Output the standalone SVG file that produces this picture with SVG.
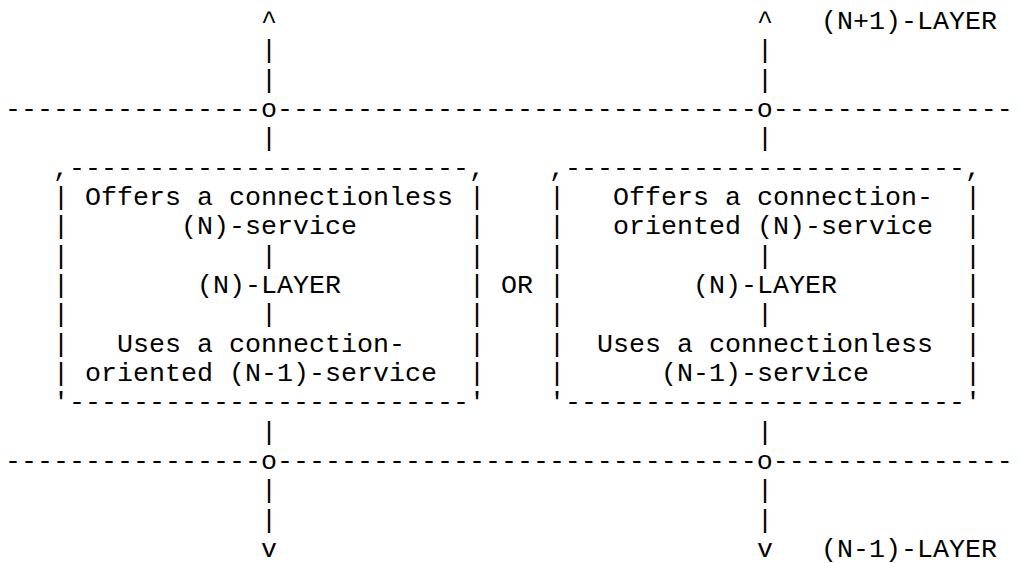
<svg xmlns="http://www.w3.org/2000/svg" width="1020" height="563" viewBox="0 0 1020 563">
<style>
text { font-family: "Liberation Mono", "Courier New", monospace; font-size: 26.667px; fill: #000; white-space: pre; }
</style>
<rect x="0" y="0" width="1020" height="563" fill="#fff"/>
<g id="connectors">
  <g id="layer-boundary-upper">
    <text x="5" y="117" xml:space="preserve">----------------o------------------------------o---------------</text>
  </g>
  <g id="layer-boundary-lower">
    <text x="5" y="469" xml:space="preserve">----------------o------------------------------o---------------</text>
  </g>
  <g id="left-path">
    <text x="261" y="29">^</text>
    <text x="261" y="58.3">|</text>
    <text x="261" y="87.7">|</text>
    <text x="261" y="146.3">|</text>
    <text x="261" y="439.7">|</text>
    <text x="261" y="498.3">|</text>
    <text x="261" y="527.7">|</text>
    <text x="261" y="557">v</text>
  </g>
  <g id="right-path">
    <text x="757" y="29">^</text>
    <text x="757" y="58.3">|</text>
    <text x="757" y="87.7">|</text>
    <text x="757" y="146.3">|</text>
    <text x="757" y="439.7">|</text>
    <text x="757" y="498.3">|</text>
    <text x="757" y="527.7">|</text>
    <text x="757" y="557">v</text>
  </g>
</g>
<g id="node-left">
  <text x="53" y="175.7" xml:space="preserve">,-------------------------,</text>
  <text x="53" y="205">|</text><text x="469" y="205">|</text>
  <text x="53" y="234.3">|</text><text x="469" y="234.3">|</text>
  <text x="53" y="263.7">|</text><text x="469" y="263.7">|</text>
  <text x="53" y="293">|</text><text x="469" y="293">|</text>
  <text x="53" y="322.3">|</text><text x="469" y="322.3">|</text>
  <text x="53" y="351.7">|</text><text x="469" y="351.7">|</text>
  <text x="53" y="381">|</text><text x="469" y="381">|</text>
  <text x="53" y="410.3" xml:space="preserve">'-------------------------'</text>
  <text x="85" y="205" xml:space="preserve">Offers a connectionless</text>
  <text x="181" y="234.3">(N)-service</text>
  <text x="261" y="263.7">|</text>
  <text x="197" y="293">(N)-LAYER</text>
  <text x="261" y="322.3">|</text>
  <text x="117" y="351.7" xml:space="preserve">Uses a connection-</text>
  <text x="85" y="381" xml:space="preserve">oriented (N-1)-service</text>
</g>
<g id="node-right">
  <text x="549" y="175.7" xml:space="preserve">,-------------------------,</text>
  <text x="549" y="205">|</text><text x="965" y="205">|</text>
  <text x="549" y="234.3">|</text><text x="965" y="234.3">|</text>
  <text x="549" y="263.7">|</text><text x="965" y="263.7">|</text>
  <text x="549" y="293">|</text><text x="965" y="293">|</text>
  <text x="549" y="322.3">|</text><text x="965" y="322.3">|</text>
  <text x="549" y="351.7">|</text><text x="965" y="351.7">|</text>
  <text x="549" y="381">|</text><text x="965" y="381">|</text>
  <text x="549" y="410.3" xml:space="preserve">'-------------------------'</text>
  <text x="613" y="205" xml:space="preserve">Offers a connection-</text>
  <text x="613" y="234.3" xml:space="preserve">oriented (N)-service</text>
  <text x="757" y="263.7">|</text>
  <text x="693" y="293">(N)-LAYER</text>
  <text x="757" y="322.3">|</text>
  <text x="597" y="351.7" xml:space="preserve">Uses a connectionless</text>
  <text x="661" y="381">(N-1)-service</text>
</g>
<g id="labels">
  <text x="821" y="29">(N+1)-LAYER</text>
  <text x="501" y="293">OR</text>
  <text x="821" y="557">(N-1)-LAYER</text>
</g>
</svg>
